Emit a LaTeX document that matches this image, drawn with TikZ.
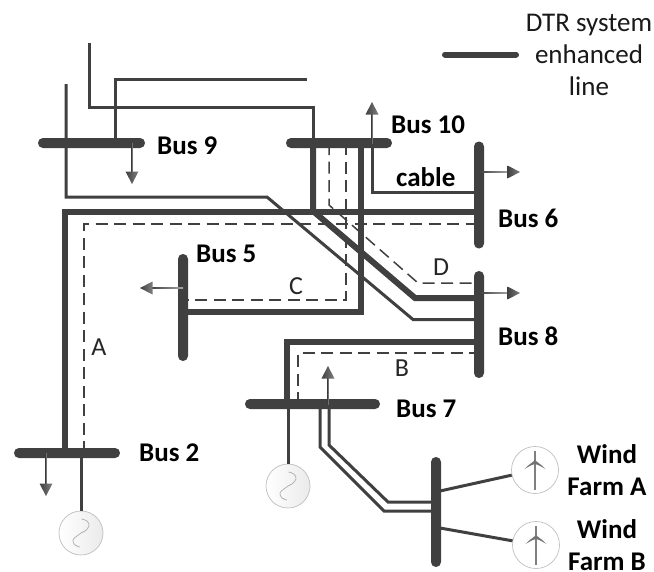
\documentclass[tikz,border=0pt]{standalone}
\usepackage{fontspec}
\setmainfont{Carlito}
\definecolor{ink}{RGB}{64,64,64}
\tikzset{x=1pt,y=-1pt,
 hbus/.style={fill=ink,draw=none,rounded corners=4.9pt,minimum height=10pt,inner sep=0pt,outer sep=0pt},
 vbus/.style={fill=ink,draw=none,rounded corners=4.9pt,minimum width=10pt,inner sep=0pt,outer sep=0pt},
 thinline/.style={draw=ink,line width=3pt,line join=miter},
 thickline/.style={draw=ink,line width=6pt,line join=miter},
 dashline/.style={draw=ink,line width=1.5pt,dash pattern=on 12pt off 6.5pt},
 lbl/.style={font=\fontsize{27}{27}\selectfont\bfseries,inner sep=0pt,anchor=west},
 farmlbl/.style={font=\fontsize{27}{27}\selectfont\bfseries,inner sep=0pt,anchor=base},
 letter/.style={font=\fontsize{26}{26}\selectfont,inner sep=0pt,text=black!85},
 legendtext/.style={font=\fontsize{27}{27}\selectfont,inner sep=0pt,anchor=base,text=black!90},
 gen/.style={circle,draw=black!25,line width=0.7pt,minimum size=44pt,inner sep=0pt,left color=white,right color=black!8},
 farm/.style={circle,draw=black!25,line width=0.7pt,minimum size=47pt,inner sep=0pt,fill=white}}
\newcommand{\loadarrow}[3]{% tip position, direction angle on the page, length
 \begin{scope}[shift={(#1)},rotate=#2]
  \shade[left color=ink,right color=black!35] (-#3,-0.9) rectangle (-11,0.9);
  \shade[left color=ink,right color=black!50] (-12.5,-6.5) -- (0,0) -- (-12.5,6.5) -- cycle;
 \end{scope}}
\newcommand{\sinewave}[1]{%
 \begin{scope}[shift={(#1.center)}]
 \draw[black!32,line width=0.7pt] plot[smooth,tension=0.7] coordinates {(0.5,-14) (6,-12) (8,-7) (4,-2) (0,0) (-4,3) (-8,7) (-6,12) (-1,14)};
 \end{scope}}
\newcommand{\turbine}[1]{%
 \begin{scope}[shift={(#1.center)}]
 \draw[black!50,line width=2pt] (0,-19) -- (0,20);
 \fill[black!55] (0,-10) .. controls (-3,-7) and (-7,-5) .. (-10.5,-1) .. controls (-7,-3) and (-4,-5) .. (0,-6) .. controls (4,-5) and (7,-3) .. (10.5,-1) .. controls (7,-5) and (3,-7) .. cycle;
 \end{scope}}
\begin{document}
\begin{tikzpicture}
\useasboundingbox[fill=white] (0,0) rectangle (654,571);
% end points on the bars
\coordinate (n9a) at (313,143);\coordinate (n9b) at (115,143);
\coordinate (t1) at (89,43);\coordinate (t2) at (307,79);\coordinate (t3) at (66,84);
\coordinate (n2a) at (65,453);\coordinate (n2b) at (84,453);\coordinate (n2g) at (81,453);
\coordinate (n6a) at (479,211.5);\coordinate (n6b) at (479,224);\coordinate (n6c) at (479,192);
\coordinate (n10c) at (372,143);\coordinate (n10d) at (361,143);\coordinate (n10e) at (346,143);\coordinate (n10f) at (329,143);
\coordinate (n5a) at (183,312);\coordinate (n5b) at (183,300);
\coordinate (n8a) at (479,298);\coordinate (n8b) at (479,283);\coordinate (n8c) at (479,319.5);\coordinate (n8d) at (479,342);\coordinate (n8e) at (479,353);
\coordinate (n7a) at (287,404);\coordinate (n7b) at (298,404);\coordinate (n7c) at (320,404);\coordinate (n7d) at (329,404);\coordinate (n7g) at (288,404);
\coordinate (nwa) at (436,511);\coordinate (nwb) at (436,502);\coordinate (nwc) at (440,491);\coordinate (nwd) at (440,528);
% generators and farms
\node[gen] (g2) at (81,533) {};
\node[gen] (g7) at (288,486) {};
\node[farm] (fa) at (535,470) {};
\node[farm] (fb) at (536,545) {};
\sinewave{g2}\sinewave{g7}\turbine{fa}\turbine{fb}
% connectors
\draw[thinline] (t1) |- (313,107) -- (n9a);
\draw[thinline] (n9b) |- (t2);
\draw[thinline] (t3) |- (267,197) -- (413,319.5) -- (n8c);
\draw[thickline] (n2a) |- (n6a);
\draw[dashline] (n2b) |- (n6b);
\draw[thickline] (n9a) -- (313,211) -- (415,298) -- (n8a);
\draw[thickline] (n10d) |- (n5a);
\draw[dashline] (n10e) |- (n5b);
\draw[dashline] (n10f) -- (329,205) -- (418,283) -- (n8b);
\draw[thinline] (n10c) |- (n6c);
\draw[thickline] (n7a) |- (n8d);
\draw[dashline] (n7b) |- (n8e);
\draw[thinline] (n7c) -- (320,447) -- (384,511) -- (nwa);
\draw[thinline] (n7d) -- (329,445) -- (388,502) -- (nwb);
\draw[thinline] (n2g) -- (g2);
\draw[thinline] (n7g) -- (g7);
\draw[thinline] (nwc) -- (fa);
\draw[thinline] (nwd) -- (fb);
% bars
\node[hbus,minimum width=107pt] (b9) at (91.5,143) {};
\node[hbus,minimum width=106pt] (b10) at (339,143) {};
\node[vbus,minimum height=107pt] (b6) at (479,195) {};
\node[vbus,minimum height=107pt] (b8) at (479,324.5) {};
\node[vbus,minimum height=107pt] (b5) at (183,307.5) {};
\node[hbus,minimum width=106pt] (b2) at (67,453) {};
\node[hbus,minimum width=135pt] (b7) at (312.5,404) {};
\node[vbus,minimum height=110pt] (bw) at (436,512) {};
% load arrows
\loadarrow{132,184}{-90}{41}
\loadarrow{46,496}{-90}{43}
\loadarrow{140,288}{180}{43}
\loadarrow{520,172}{0}{41}
\loadarrow{520,293}{0}{41}
\loadarrow{372,102}{90}{41}
\loadarrow{328,366}{90}{38}
% labels
\node[lbl] at (157,146) {Bus 9};
\node[lbl] at (391,125) {Bus 10};
\node[lbl] at (396,177) {cable};
\node[lbl] at (498,218) {Bus 6};
\node[lbl] at (196,254) {Bus 5};
\node[lbl] at (498,336) {Bus 8};
\node[lbl] at (396,409) {Bus 7};
\node[lbl] at (139,453) {Bus 2};
\node[farmlbl] at (607,463) {Wind};
\node[farmlbl] at (607,495) {Farm A};
\node[farmlbl] at (607,538) {Wind};
\node[farmlbl] at (607,570) {Farm B};
\node[letter] at (99,347) {A};
\node[letter] at (402,368) {B};
\node[letter] at (296,286) {C};
\node[letter] at (441,267) {D};
% legend
\coordinate (la) at (445,54.5);\coordinate (lb) at (516,54.5);
\draw[thickline,line cap=round] (la) -- (lb);
\node[legendtext] at (589,31) {DTR system};
\node[legendtext] at (589,63) {enhanced};
\node[legendtext] at (589,95) {line};
\end{tikzpicture}
\end{document}
